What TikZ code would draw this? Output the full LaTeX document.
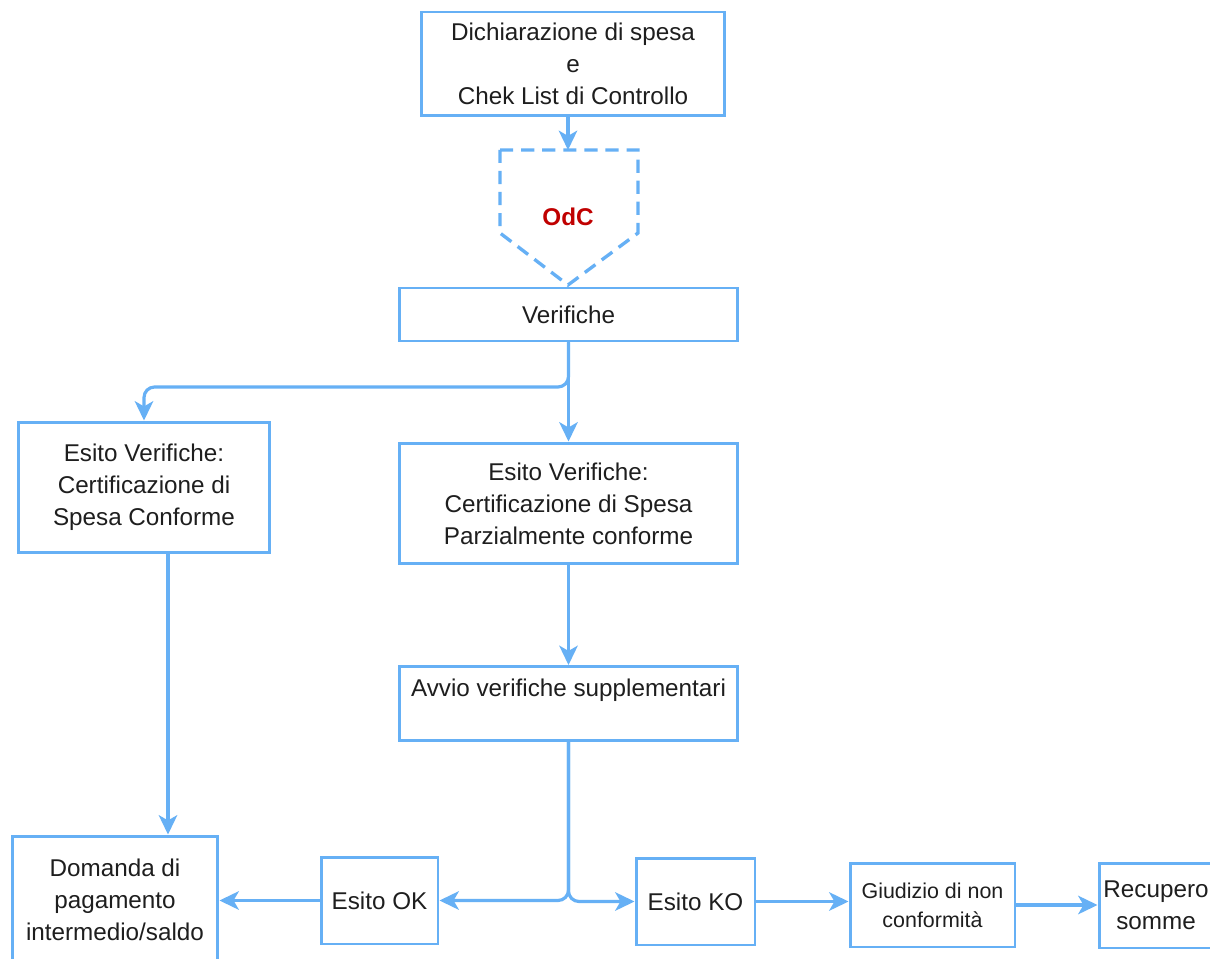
\documentclass[tikz,border=0pt]{standalone}
\usepackage{fontspec}
\setmainfont{Liberation Sans}
\usetikzlibrary{arrows.meta}
\definecolor{flowblue}{RGB}{102,176,245}
\definecolor{odcred}{RGB}{192,0,0}
\definecolor{textgrey}{RGB}{30,30,30}

\begin{document}
\begin{tikzpicture}[x=0.02cm,y=-0.02cm,
	box/.style={draw=flowblue,line width=1.7pt,fill=white,align=center,inner sep=0pt,text=textgrey,font=\fontsize{13.8}{18.2}\selectfont},
	smallbox/.style={box,font=\fontsize{12.2}{16.5}\selectfont},
	flow/.style={draw=flowblue,line width=1.8pt,-{Stealth[length=11pt,width=10.5pt,inset=3pt]}}]
	\fill [white] (0,0) rectangle (1210,959);
	\useasboundingbox (0,0) rectangle (1210,959);

	%Dichiarazione di spesa
	\node [box,minimum width=6.08cm,minimum height=2.08cm] (dich) at (573,64) {Dichiarazione di spesa\\e\\Chek List di Controllo};

	%OdC (dashed pentagon)
	\coordinate (odctop) at (568,150);
	\coordinate (odctip) at (568,285);
	\draw [draw=flowblue,line width=1.9pt,dash pattern=on 7.5pt off 4.5pt] (500,150) -- (638,150) -- (638,233) -- (odctip) -- (500,233) -- cycle;
	\node [text=odcred,font=\fontsize{13.8}{18}\selectfont\bfseries] (odc) at (568,217) {OdC};
	\draw [flow] (dich.south -| odctop) -- (odctop);

	%Verifiche
	\node [box,minimum width=6.78cm,minimum height=1.06cm] (verif) at (568.5,314.5) {Verifiche};

	%Esiti delle verifiche
	\node [box,minimum width=5.04cm,minimum height=2.62cm] (esitoconf) at (144,487.5) {Esito Verifiche:\\Certificazione di\\Spesa Conforme};
	\node [box,minimum width=6.78cm,minimum height=2.42cm] (esitopar) at (568.5,503.5) {Esito Verifiche:\\Certificazione di Spesa\\Parzialmente conforme};
	\draw [flow,rounded corners=6pt] (verif.south) -- (verif.south |- 0,387) -| (esitoconf.north);
	\draw [flow] (verif.south) -- (esitopar.north);

	%Verifiche supplementari
	\node [box,minimum width=6.78cm,minimum height=1.48cm] (avvio) at (568.5,703.5) {Avvio verifiche supplementari\\~};
	\draw [flow] (esitopar.south) -- (avvio.north);

	%Riga in basso
	\node [box,minimum width=4.12cm,minimum height=2.56cm] (domanda) at (115,900) {Domanda di\\pagamento\\intermedio/saldo};
	\node [box,minimum width=2.34cm,minimum height=1.74cm] (esitook) at (379.5,900.5) {Esito OK};
	\node [box,minimum width=2.38cm,minimum height=1.74cm] (esitoko) at (695.5,901.5) {Esito KO};
	\node [smallbox,minimum width=3.3cm,minimum height=1.68cm] (giudizio) at (932.5,905) {Giudizio di non\\conformità};
	\node [box,minimum width=2.28cm,minimum height=1.7cm] (recupero) at (1156,905.5) {Recupero\\somme};

	\draw [flow] (esitoconf.south -| 168,0) -- (domanda.north -| 168,0);
	\draw [flow,rounded corners=6pt] (avvio.south) |- (esitook.east);
	\draw [flow,rounded corners=6pt] (avvio.south) |- (esitoko.west);
	\draw [flow] (esitook.west) -- (esitook.west -| domanda.east);
	\draw [flow] (esitoko.east) -- (esitoko.east -| giudizio.west);
	\draw [flow] (giudizio.east) -- (giudizio.east -| recupero.west);
\end{tikzpicture}
\end{document}
